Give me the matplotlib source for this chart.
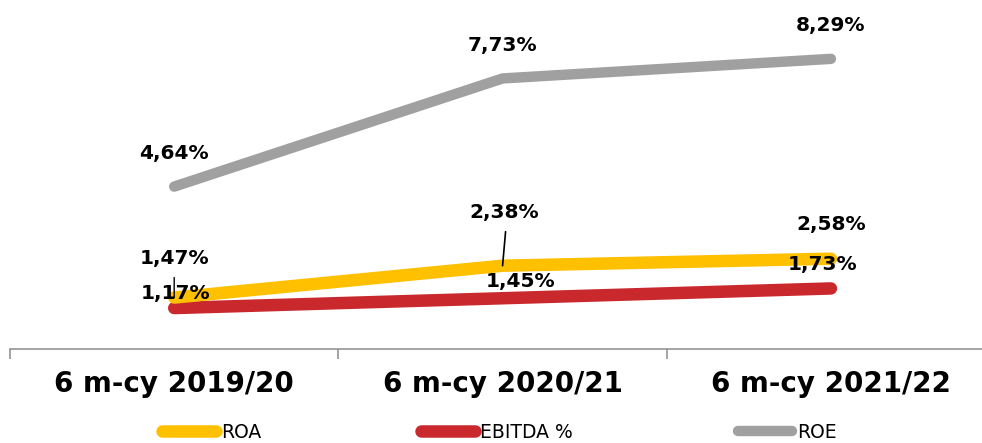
import matplotlib.pyplot as plt

periods = ['6 m-cy 2019/20', '6 m-cy 2020/21', '6 m-cy 2021/22']
roa = [1.47, 2.38, 2.58]
ebitda = [1.17, 1.45, 1.73]
roe = [4.64, 7.73, 8.29]

def fmt(v):
    return f'{v:.2f}%'.replace('.', ',')

fig = plt.figure(figsize=(9.82, 4.43), dpi=100)
ax = fig.add_axes([10 / 982, 94 / 443, 1 - 10 / 982, 315 / 443])

x = range(len(periods))
style = dict(solid_capstyle='round', solid_joinstyle='round')
l_roa, = ax.plot(x, roa, color='#FFC000', lw=9, label='ROA', zorder=3, **style)
l_ebit, = ax.plot(x, ebitda, color='#C9282D', lw=9, label='EBITDA %', zorder=2, **style)
l_roe, = ax.plot(x, roe, color='#A0A0A0', lw=7.5, label='ROE', zorder=3, **style)

# data labels (offsets in pixels)
lab = dict(textcoords='offset pixels', ha='center', va='center',
           fontsize=14.5, fontweight='bold', fontfamily='DejaVu Sans', zorder=5)
for i, v in enumerate(roe):
    ax.annotate(fmt(v), (i, v), xytext=(0, 33), **lab)

roa_off = [(0, 39), (2, 53), (0, 34)]
for i, v in enumerate(roa):
    ax.annotate(fmt(v), (i, v), xytext=roa_off[i], **lab)
ebit_off = [(1, 15), (18, 17), (-8, 24)]
for i, v in enumerate(ebitda):
    ax.annotate(fmt(v), (i, v), xytext=ebit_off[i], **lab)

# leader lines for the crowded labels
ax.annotate('', (0, roa[0]), xytext=(0, 20), textcoords='offset pixels',
            arrowprops=dict(arrowstyle='-', color='black', lw=1, shrinkA=0, shrinkB=0))
ax.annotate('', (1, roa[1]), xytext=(3, 34), textcoords='offset pixels',
            arrowprops=dict(arrowstyle='-', color='black', lw=1.2, shrinkA=0, shrinkB=0))

for s in ['top', 'right', 'left']:
    ax.spines[s].set_visible(False)
ax.spines['bottom'].set_color('#8C8C8C')
ax.spines['bottom'].set_linewidth(1.1)
ax.set_yticks([])

ax.set_xticks([0, 1, 2])
ax.set_xticklabels(periods, fontsize=20, fontweight='bold')
ax.tick_params(axis='x', which='major', length=0, pad=15)
ax.set_xticks([-0.5, 0.5, 1.5], minor=True)
ax.tick_params(axis='x', which='minor', length=7, color='#8C8C8C', width=1.1)

ax.set_xlim(-0.5, 2.46)
ax.set_ylim(0, 9)

# one legend entry per slot along the bottom
for line, left in [(l_roa, 162), (l_ebit, 421), (l_roe, 738)]:
    fig.legend(handles=[line], loc='center left', bbox_to_anchor=(left / 982, 11 / 443),
               frameon=False, fontsize=13.5, handlelength=2.9, handletextpad=0.25,
               borderpad=0, borderaxespad=0)

fig.savefig('out.png', dpi=100)
